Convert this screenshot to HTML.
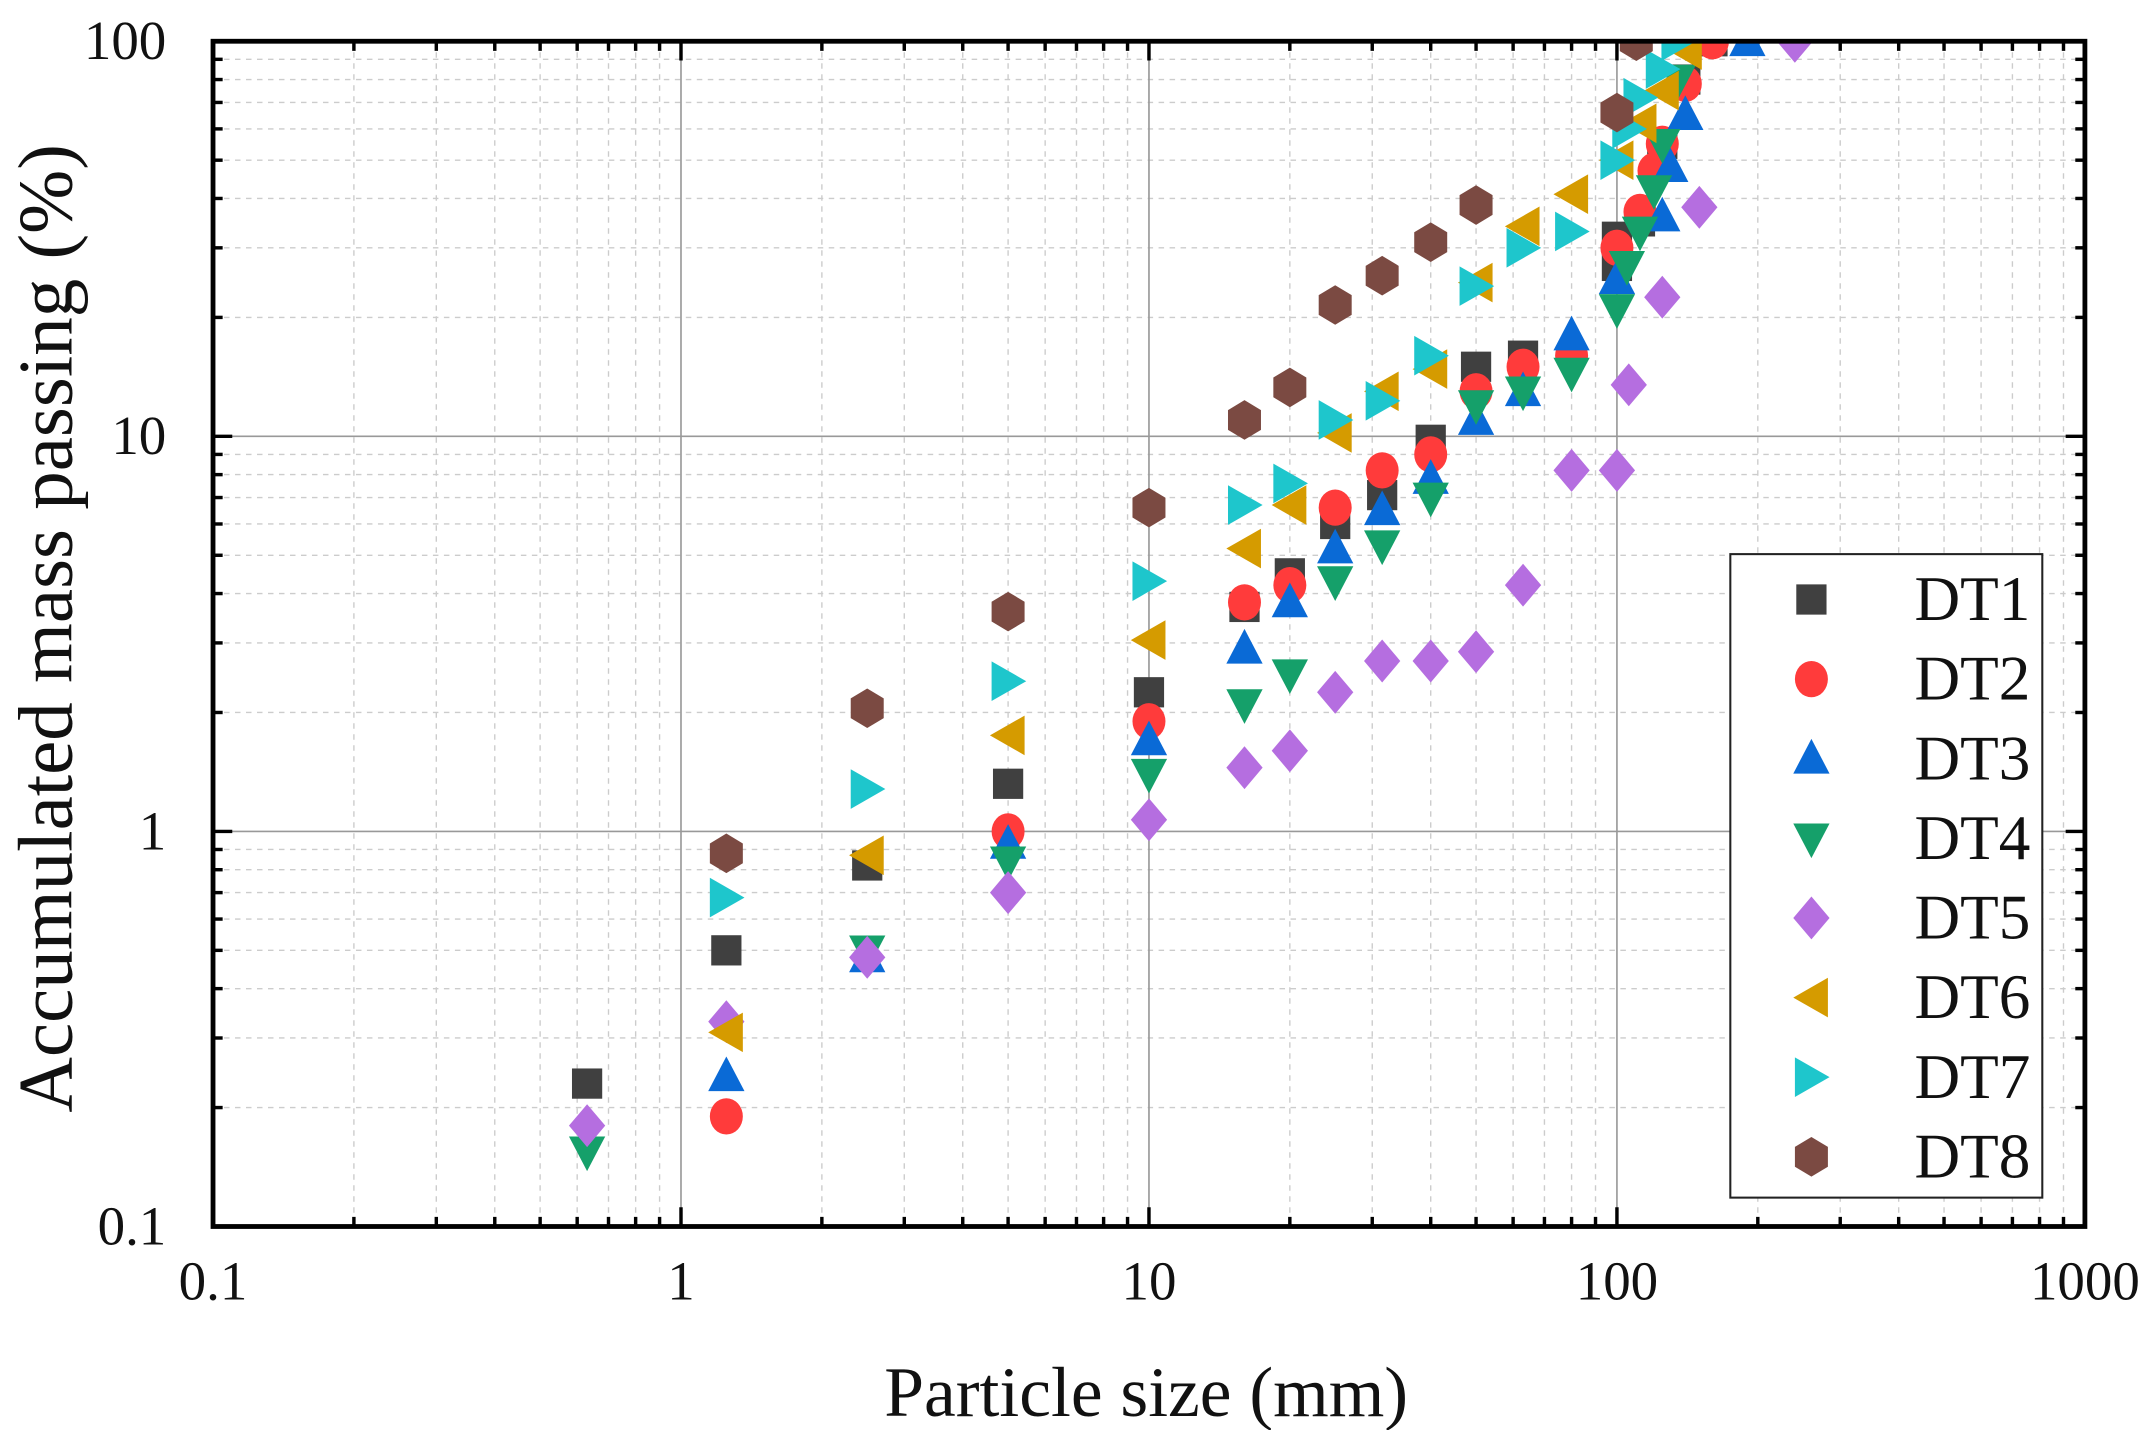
<!DOCTYPE html>
<html><head><meta charset="utf-8"><style>
html,body{margin:0;padding:0;background:#fff;width:2155px;height:1430px;overflow:hidden}
svg text{font-family:"Liberation Serif",serif;fill:#111}
</style></head><body>
<svg id="s" width="2155" height="1430" viewBox="0 0 1568 1040" preserveAspectRatio="none" xmlns="http://www.w3.org/2000/svg"></svg>
<script>
const L=155,R=1517,T=30,B=892;
const X=v=>L+(Math.log10(v)+1)*(R-L)/4;
const Y=v=>B-(Math.log10(v)+1)*(B-T)/3;
let s='';
for(let d=-1;d<3;d++)for(let m=2;m<10;m++){const x=X(m*Math.pow(10,d));s+=`<line x1="${x}" y1="${T}" x2="${x}" y2="${B}" stroke="#ccc" stroke-width="1" stroke-dasharray="4,4"/>`;}
for(let d=-1;d<2;d++)for(let m=2;m<10;m++){const y=Y(m*Math.pow(10,d));s+=`<line x1="${L}" y1="${y}" x2="${R}" y2="${y}" stroke="#ccc" stroke-width="1" stroke-dasharray="4,4"/>`;}
for(const v of [1,10,100]){s+=`<line x1="${X(v)}" y1="${T}" x2="${X(v)}" y2="${B}" stroke="#999" stroke-width="1.2"/>`;}
for(const v of [1,10]){s+=`<line x1="${L}" y1="${Y(v)}" x2="${R}" y2="${Y(v)}" stroke="#999" stroke-width="1.2"/>`;}
for(let d=-1;d<3;d++)for(let m=1;m<10;m++){const v=m*Math.pow(10,d);const x=X(v);const len=m==1?14:7;if(m==1&&d==-1)continue;
s+=`<line x1="${x}" y1="${B}" x2="${x}" y2="${B-len}" stroke="#000" stroke-width="2.5"/><line x1="${x}" y1="${T}" x2="${x}" y2="${T+len}" stroke="#000" stroke-width="2.5"/>`;}
for(let d=-1;d<2;d++)for(let m=1;m<10;m++){const v=m*Math.pow(10,d);const y=Y(v);const len=m==1?14:7;if(m==1&&d==-1)continue;
s+=`<line x1="${L}" y1="${y}" x2="${L+len}" y2="${y}" stroke="#000" stroke-width="2.5"/><line x1="${R}" y1="${y}" x2="${R-len}" y2="${y}" stroke="#000" stroke-width="2.5"/>`;}
const xl=[[0.1,'0.1'],[1,'1'],[10,'10'],[100,'100'],[1000,'1000']];
for(const [v,t] of xl)s+=`<text x="${X(v)}" y="945" font-size="40" text-anchor="middle">${t}</text>`;
const yl=[[0.1,'0.1'],[1,'1'],[10,'10'],[100,'100']];
for(const [v,t] of yl)s+=`<text x="121" y="${Y(v)+13}" font-size="40" text-anchor="end">${t}</text>`;
s+=`<text x="834" y="1030" font-size="52" text-anchor="middle">Particle size (mm)</text>`;
s+=`<text transform="translate(52,457) rotate(-90)" font-size="56" text-anchor="middle">Accumulated mass passing (%)</text>`;
const k=1.2;
function mk(type,x,y,c){
 switch(type){
 case 'sq':return `<rect x="${x-11}" y="${y-11}" width="22" height="22" fill="${c}"/>`;
 case 'ci':return `<ellipse cx="${x}" cy="${y}" rx="${10*k}" ry="${11*k}" fill="${c}"/>`;
 case 'up':return `<polygon points="${x},${y-12*k} ${x+11*k},${y+9*k} ${x-11*k},${y+9*k}" fill="${c}"/>`;
 case 'dn':return `<polygon points="${x},${y+12*k} ${x+11*k},${y-9*k} ${x-11*k},${y-9*k}" fill="${c}"/>`;
 case 'di':return `<polygon points="${x},${y-13*k} ${x+11*k},${y} ${x},${y+13*k} ${x-11*k},${y}" fill="${c}"/>`;
 case 'lt':return `<polygon points="${x-11*k},${y} ${x+10*k},${y-12*k} ${x+10*k},${y+12*k}" fill="${c}"/>`;
 case 'rt':return `<polygon points="${x+11*k},${y} ${x-10*k},${y-12*k} ${x-10*k},${y+12*k}" fill="${c}"/>`;
 case 'hx':return `<polygon points="${x},${y-12*k} ${x+10*k},${y-6*k} ${x+10*k},${y+6*k} ${x},${y+12*k} ${x-10*k},${y+6*k} ${x-10*k},${y-6*k}" fill="${c}"/>`;
 }}
const S=[
['sq','#404040',[[0.63,0.23],[1.25,0.5],[2.5,0.82],[5,1.32],[10,2.25],[16,3.7],[20,4.5],[25,6],[31.5,7.1],[40,9.8],[50,15],[63,16],[100,32],[100,27],[112,35],[125,55],[140,80],[160,100]]],
['ci','#ff3b3b',[[1.25,0.19],[5,1.0],[10,1.9],[16,3.8],[20,4.2],[25,6.6],[31.5,8.2],[40,9],[50,13],[63,15],[80,16],[100,30],[112,37],[120,47],[125,55],[140,78],[160,100]]],
['up','#0a6ad6',[[1.25,0.24],[2.5,0.48],[5,0.93],[10,1.7],[16,2.9],[20,3.8],[25,5.2],[31.5,6.5],[40,7.8],[50,11],[63,13],[80,18],[100,25],[125,36],[130,48],[140,65],[190,100]]],
['dn','#15a06a',[[0.63,0.155],[2.5,0.5],[5,0.84],[10,1.4],[16,2.1],[20,2.5],[25,4.3],[31.5,5.3],[40,7],[50,12],[63,13],[80,14.5],[100,21],[105,27],[112,33],[120,42],[125,55],[135,80],[140,100]]],
['di','#b56ee0',[[0.63,0.18],[1.25,0.33],[2.5,0.48],[5,0.7],[10,1.07],[16,1.45],[20,1.6],[25,2.25],[31.5,2.7],[40,2.7],[50,2.85],[63,4.2],[80,8.2],[100,8.2],[106,13.5],[125,22.5],[150,38],[240,100]]],
['lt','#d59b00',[[1.25,0.31],[2.5,0.87],[5,1.75],[10,3.05],[16,5.2],[20,6.7],[25,10.2],[31.5,13],[40,14.8],[50,24.5],[63,34],[80,41],[100,50],[112,62],[125,75],[140,95]]],
['rt','#1ec6cc',[[1.25,0.68],[2.5,1.28],[5,2.4],[10,4.3],[16,6.7],[20,7.6],[25,11],[31.5,12.3],[40,16],[50,24],[63,30],[80,33],[100,50],[106,60],[112,72],[125,85],[135,100]]],
['hx','#7b4a42',[[1.25,0.88],[2.5,2.05],[5,3.6],[10,6.6],[16,11],[20,13.3],[25,21.5],[31.5,25.5],[40,31],[50,38.5],[100,66],[110,100]]]
];
s+=`<svg x="${L}" y="${T}" width="${R-L}" height="${B-T}" viewBox="${L} ${T} ${R-L} ${B-T}" overflow="hidden">`;
for(const [t,c,pts] of S)for(const [a,b] of pts)s+=mk(t,X(a),Y(b),c);
s+=`</svg>`;
s+=`<rect x="${L}" y="${T}" width="${R-L}" height="${B-T}" fill="none" stroke="#000" stroke-width="3.5"/>`;
s+=`<rect x="1259" y="403" width="227" height="468" fill="#fff" stroke="#222" stroke-width="1.5"/>`;
S.forEach(([t,c],i)=>{const y=436+i*57.9;s+=mk(t,1318,y,c)+`<text x="1393" y="${y+15}" font-size="46">DT${i+1}</text>`;});
document.getElementById('s').innerHTML=s;
</script>
</body></html>
